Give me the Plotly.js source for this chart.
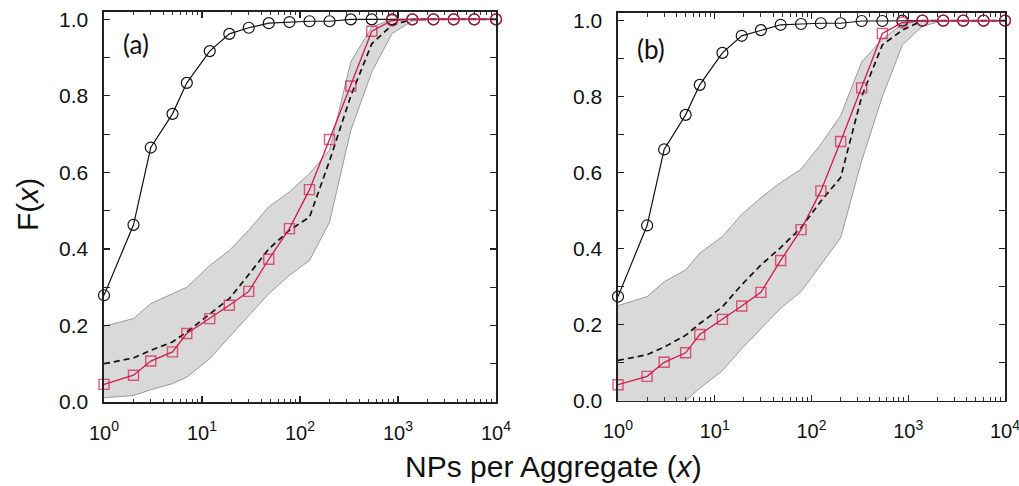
<!DOCTYPE html>
<html>
<head>
<meta charset="utf-8">
<script src="https://cdn.plot.ly/plotly-3.0.1.min.js"></script>
<style>
  html, body { margin: 0; padding: 0; background: #fff; }
  #chart { width: 1019px; height: 486px; }
</style>
</head>
<body>
<div id="chart"></div>
<script>
// ---- data ----
const xVals = [1, 2, 3, 5, 7, 12, 19, 30, 48, 78, 125, 200, 330, 540, 870, 1400, 2300, 3700, 6000, 10000];

// panel (a)
const blackA = [0.279, 0.463, 0.665, 0.753, 0.834, 0.917, 0.962, 0.978, 0.990, 0.993, 0.995, 0.995, 1.0, 1.0, 1.0, 1.0, 1.0, 1.0, 1.0, 1.0];
const redA   = [0.046, 0.070, 0.107, 0.131, 0.179, 0.218, 0.253, 0.289, 0.373, 0.453, 0.555, 0.686, 0.826, 0.969, 0.997, 1.0, 1.0, 1.0, 1.0, 1.0];
const meanA  = [0.100, 0.115, 0.135, 0.157, 0.183, 0.231, 0.270, 0.333, 0.400, 0.449, 0.483, 0.630, 0.800, 0.936, 0.985, 1.0, 1.0, 1.0, 1.0, 1.0];
const upperA = [0.198, 0.218, 0.257, 0.283, 0.300, 0.357, 0.396, 0.449, 0.510, 0.549, 0.597, 0.658, 0.889, 0.980, 1.0, 1.0, 1.0, 1.0, 1.0, 1.0];
const lowerA = [0.011, 0.017, 0.032, 0.048, 0.065, 0.113, 0.170, 0.226, 0.283, 0.331, 0.370, 0.470, 0.710, 0.862, 0.963, 0.996, 1.0, 1.0, 1.0, 1.0];

// panel (b)
const blackB = [0.274, 0.461, 0.661, 0.752, 0.831, 0.915, 0.960, 0.975, 0.989, 0.991, 0.993, 0.993, 0.999, 0.999, 1.0, 1.0, 1.0, 1.0, 1.0, 1.0];
const redB   = [0.042, 0.064, 0.101, 0.126, 0.174, 0.214, 0.249, 0.285, 0.369, 0.450, 0.552, 0.682, 0.823, 0.966, 0.995, 1.0, 1.0, 1.0, 1.0, 1.0];
const meanB  = [0.106, 0.121, 0.141, 0.172, 0.203, 0.247, 0.305, 0.357, 0.403, 0.455, 0.525, 0.587, 0.800, 0.936, 0.975, 1.0, 1.0, 1.0, 1.0, 1.0];
const upperB = [0.250, 0.274, 0.313, 0.344, 0.388, 0.432, 0.490, 0.534, 0.574, 0.609, 0.675, 0.750, 0.891, 0.951, 0.991, 1.0, 1.0, 1.0, 1.0, 1.0];
const lowerB = [-0.09, -0.06, -0.03, 0.0, 0.033, 0.079, 0.137, 0.190, 0.243, 0.287, 0.357, 0.428, 0.631, 0.800, 0.936, 0.985, 1.0, 1.0, 1.0, 1.0];

const xTickVals = [1, 10, 100, 1000, 10000];
const xTickText = ['10<sup>0</sup>', '10<sup>1</sup>', '10<sup>2</sup>', '10<sup>3</sup>', '10<sup>4</sup>'];
const yTickVals = [0, 0.2, 0.4, 0.6, 0.8, 1.0];
const panelLabels = ['(a)', '(b)'];
const xTitle = 'NPs per Aggregate (<i>x</i>)';
const yTitle = 'F(<i>x</i>)';

// ---- styles ----
const RED = '#d01a4a';
const BAND = '#d9d9d9';
const BANDLINE = '#9a9a9a';

// minor log ticks 2..9 within each decade
const minorX = [];
for (let k = 0; k < 4; k++) for (let m = 2; m <= 9; m++) minorX.push(m * Math.pow(10, k));

function panelTraces(xa, ya, black, red, mean, upper, lower) {
  return [
    { x: xVals, y: lower, xaxis: xa, yaxis: ya, mode: 'lines', type: 'scatter',
      line: { color: BANDLINE, width: 1 }, hoverinfo: 'skip', showlegend: false },
    { x: xVals, y: upper, xaxis: xa, yaxis: ya, mode: 'lines', type: 'scatter',
      fill: 'tonexty', fillcolor: BAND,
      line: { color: BANDLINE, width: 1 }, hoverinfo: 'skip', showlegend: false },
    { x: xVals, y: mean, xaxis: xa, yaxis: ya, mode: 'lines', type: 'scatter',
      line: { color: '#111', width: 1.7, dash: '6px,4px' }, showlegend: false },
    { x: xVals, y: black, xaxis: xa, yaxis: ya, mode: 'lines+markers', type: 'scatter',
      cliponaxis: false,
      line: { color: '#111', width: 1.2 },
      marker: { symbol: 'circle-open', size: 11, color: '#111', line: { width: 1.2, color: '#111' } },
      showlegend: false },
    { x: xVals, y: red, xaxis: xa, yaxis: ya, mode: 'lines+markers', type: 'scatter',
      cliponaxis: false,
      line: { color: RED, width: 1.3 },
      marker: { symbol: red.map(v => v >= 0.99 ? 'circle-open' : 'square-open'),
                size: red.map(v => v >= 0.99 ? 11 : 10),
                color: RED, line: { width: 1.4, color: RED } },
      showlegend: false }
  ];
}

const data = [].concat(
  panelTraces('x', 'y', blackA, redA, meanA, upperA, lowerA),
  panelTraces('x2', 'y2', blackB, redB, meanB, upperB, lowerB)
);

const W = 1019, H = 486;
function xd(a, b) { return [a / W, b / W]; }
function yd(top, bottom) { return [(H - bottom) / H, (H - top) / H]; }

function xAxis(domain, anchor) {
  return {
    type: 'log', domain: domain, anchor: anchor, range: [0, 4],
    tickmode: 'array', tickvals: xTickVals, ticktext: xTickText,
    ticks: 'inside', ticklen: 6, tickwidth: 1.2, tickcolor: '#222',
    minor: { tickmode: 'array', tickvals: minorX, ticks: 'inside', ticklen: 3.5, tickwidth: 1, tickcolor: '#333' },
    showline: true, linecolor: '#222', linewidth: 1.6, mirror: 'ticks',
    showgrid: false, zeroline: false,
    ticklabeloverflow: 'allow',
    tickfont: { family: 'Liberation Sans, Arial, sans-serif', size: 20, color: '#111' },
    ticklabelstandoff: 12
  };
}
function yAxis(domain, anchor) {
  return {
    domain: domain, anchor: anchor, range: [0, 1.02],
    tickmode: 'array', tickvals: yTickVals, tickformat: '.1f',
    ticks: 'inside', ticklen: 6, tickwidth: 1.2, tickcolor: '#222',
    minor: { dtick: 0.1, ticks: 'inside', ticklen: 6, tickwidth: 1.2, tickcolor: '#222' },
    showline: true, linecolor: '#222', linewidth: 1.6, mirror: 'ticks',
    showgrid: false, zeroline: false,
    ticklabeloverflow: 'allow',
    tickfont: { family: 'Liberation Sans, Arial, sans-serif', size: 21, color: '#111' },
    ticklabelstandoff: 10
  };
}

const layout = {
  width: W, height: H,
  margin: { l: 0, r: 0, t: 0, b: 0 },
  paper_bgcolor: '#fff', plot_bgcolor: '#fff',
  showlegend: false,
  xaxis: xAxis(xd(104, 496), 'y'),
  yaxis: yAxis(yd(11.7, 402), 'x'),
  xaxis2: xAxis(xd(618, 1005), 'y2'),
  yaxis2: yAxis(yd(13, 400.7), 'x2'),
  annotations: [
    { text: panelLabels[0], xref: 'paper', yref: 'paper', x: 136 / W, y: (H - 44) / H,
      xanchor: 'center', yanchor: 'middle', showarrow: false,
      font: { family: 'Lato, Open Sans, sans-serif', size: 26, color: '#111' } },
    { text: panelLabels[1], xref: 'paper', yref: 'paper', x: 651 / W, y: (H - 49) / H,
      xanchor: 'center', yanchor: 'middle', showarrow: false,
      font: { family: 'Lato, Open Sans, sans-serif', size: 26, color: '#111' } },
    { text: xTitle, xref: 'paper', yref: 'paper', x: 553 / W, y: (H - 466) / H,
      xanchor: 'center', yanchor: 'middle', showarrow: false,
      font: { family: 'Liberation Sans, Arial, sans-serif', size: 30, color: '#111' } },
    { text: yTitle, xref: 'paper', yref: 'paper', x: 27 / W, y: (H - 205) / H,
      xanchor: 'center', yanchor: 'middle', showarrow: false, textangle: -90,
      font: { family: 'Liberation Sans, Arial, sans-serif', size: 30, color: '#111' } }
  ]
};

Plotly.newPlot('chart', data, layout, { staticPlot: true, displayModeBar: false });
</script>
</body>
</html>
